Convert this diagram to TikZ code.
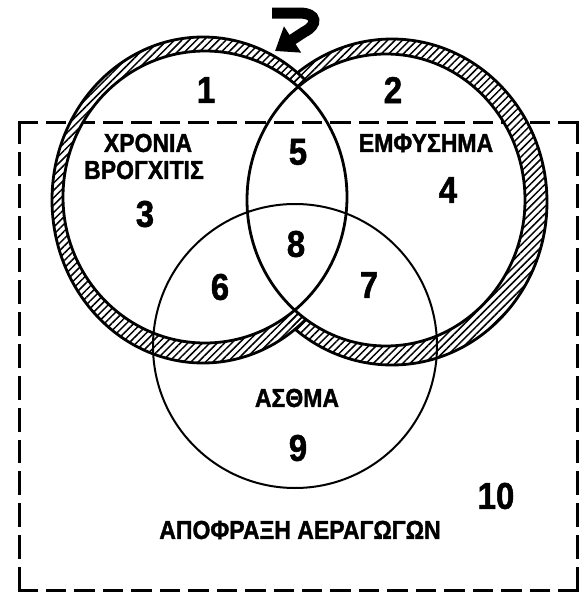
\documentclass[tikz,border=0pt]{standalone}
\usepackage{fontspec}
\setmainfont{Liberation Sans}
\newfontfamily\heavy{Liberation Sans Bold}[FakeBold=1.5]
\usetikzlibrary{patterns.meta,arrows.meta}
\newcommand{\tallbox}[1]{\scalebox{1}[1.13]{#1}}
\begin{document}
\begin{tikzpicture}[x=1pt,y=-1pt,
  lbl/.style={font=\fontsize{23}{27}\heavy, inner sep=0pt},
  num/.style={font=\fontsize{33}{36}\heavy, inner sep=0pt},
  ringedge/.style={line width=2.8pt},
  thinring/.style={line width=2pt},
  hatch/.style={pattern={Lines[angle=45,distance=5.2pt,line width=1.5pt]}},
  dashside/.style={line width=3pt, line cap=rect}]
\useasboundingbox (0,0) rectangle (585,597);
\fill[white] (0,0) rectangle (585,597);
% dashed frame
\coordinate (tl) at (19,122);
\coordinate (tr) at (577,122);
\coordinate (br) at (577,590);
\coordinate (bl) at (19,590);
\draw[dashside, dash pattern=on 17.45pt off 11pt] (tl) -- (tr);
\draw[dashside, dash pattern=on 17.45pt off 11pt] (bl) -- (br);
\draw[dashside, dash pattern=on 20.9pt off 11pt] (tl) -- (bl);
\draw[dashside, dash pattern=on 20.9pt off 11pt] (tr) -- (br);
% hatched bands
\begin{scope}[even odd rule]
  \clip (-10,-10) rectangle (595,607) (205,197) ellipse [x radius=142, y radius=146];
  \begin{scope}[even odd rule]
    \clip (-10,-10) rectangle (595,607) (386,200) ellipse [x radius=139, y radius=146];
    \fill[white] (203,200) ellipse [x radius=151, y radius=163];
    \fill[white] (392,202) ellipse [x radius=155, y radius=163];
    \fill[hatch] (203,200) ellipse [x radius=151, y radius=163];
    \fill[hatch] (392,202) ellipse [x radius=155, y radius=163];
    \begin{scope}[even odd rule]
      \clip (-10,-10) rectangle (595,607) (203,200) ellipse [x radius=151, y radius=163];
      \draw[ringedge] (392,202) ellipse [x radius=155, y radius=163];
    \end{scope}
    \draw[ringedge] (203,200) ellipse [x radius=151, y radius=163];
  \end{scope}
\end{scope}
\draw[ringedge] (205,197) ellipse [x radius=142, y radius=146];
\draw[ringedge] (386,200) ellipse [x radius=139, y radius=146];
% asthma circle
\draw[thinring] (295,346) circle [radius=142];
% arrow
\coordinate (a1) at (272,13);
\coordinate (a2) at (299,13);
\coordinate (a3) at (304,32);
\coordinate (a4) at (275,51);
\draw[line width=11pt, -{Triangle[length=21pt,width=30pt]}] (a1) -- (a2) .. controls (318,13) and (318,25) .. (a3) -- (a4);
% labels
\node[num] (n1) at (206,90) {\tallbox{1}};
\node[num] (n2) at (393,90) {\tallbox{2}};
\node[lbl] (chr) at (148,143) {\tallbox{ΧΡΟΝΙΑ}};
\node[lbl] (bro) at (144,170) {\tallbox{ΒΡΟΓΧΙΤΙΣ}};
\node[num] (n3) at (145,214) {\tallbox{3}};
\node[num] (n5) at (298,152) {\tallbox{5}};
\node[lbl] (emf) at (426,143) {\tallbox{ΕΜΦΥΣΗΜΑ}};
\node[num] (n4) at (448,190) {\tallbox{4}};
\node[num] (n8) at (296,244) {\tallbox{8}};
\node[num] (n6) at (220,287) {\tallbox{6}};
\node[num] (n7) at (369,285) {\tallbox{7}};
\node[lbl] (ast) at (297,398) {\tallbox{ΑΣΘΜΑ}};
\node[num] (n9) at (298,448) {\tallbox{9}};
\node[num] (n10) at (496,496) {\tallbox{10}};
\node[lbl] (apo) at (300,530) {\tallbox{ΑΠΟΦΡΑΞΗ ΑΕΡΑΓΩΓΩΝ}};
\end{tikzpicture}
\end{document}
